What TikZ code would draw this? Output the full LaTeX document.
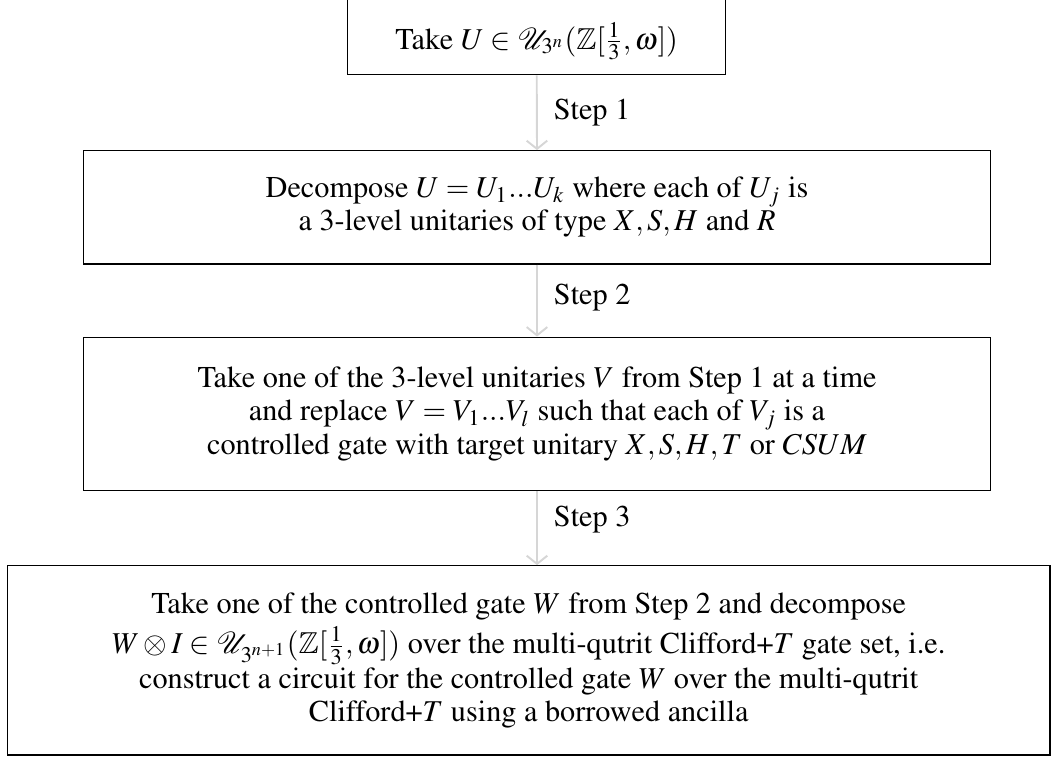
\documentclass[tikz,border=0pt]{standalone}
\usepackage[T1]{fontenc}
\IfFileExists{newtxmath.sty}{\usepackage{times}\usepackage{newtxmath}}{\usepackage{amssymb}\usepackage{mathptmx}}
\usetikzlibrary{arrows.meta}
\newlength\pxu
\setlength\pxu{0.3636pt}
\begin{document}
\begin{tikzpicture}[x=0.3636pt,y=-0.3636pt,
  box/.style={draw=black, line width=0.45pt, align=center, inner sep=0pt, font=\fontsize{11}{12}\selectfont},
  flow/.style={draw=black!16, line width=0.7pt, -{Straight Barb[length=3pt,width=7.5pt]}},
  steplabel/.style={anchor=west, inner sep=0pt, xshift=16\pxu, font=\fontsize{11}{12}\selectfont}]
\useasboundingbox (0,0) rectangle (1058,757);
% box 1 (top edge cropped)
\node[box, minimum width=378\pxu, minimum height=150\pxu] (b1) at (536.7,-0.3) {};
\node[inner sep=0pt, font=\fontsize{11}{12}\selectfont] (t1) at (536.7,41) {Take $U\in\mathcal{U}_{3^n}(\mathbb{Z}[\frac{1}{3},\omega])$};
% box 2
\node[box, minimum width=907.4\pxu, minimum height=113.3\pxu] (b2) at (537,207.4)
  {Decompose $U = U_1...U_k$ where each of $U_j$ is\\ a 3-level unitaries of type $X, S, H$ and $R$};
% box 3
\node[box, minimum width=907.4\pxu, minimum height=153.7\pxu] (b3) at (537,414)
  {Take one of the 3-level unitaries $V$ from Step 1 at a time\\ and replace $V = V_1...V_l$ such that each of $V_j$ is a\\ controlled gate with target unitary $X, S, H, T$ or $CSUM$};
% box 4
\node[box, minimum width=1042.7\pxu, minimum height=189.3\pxu] (b4) at (528.7,660.4)
  {Take one of the controlled gate $W$ from Step 2 and decompose\\[1.5pt] $W\otimes I\in\mathcal{U}_{3^{n+1}}(\mathbb{Z}[\frac{1}{3},\omega])$ over the multi-qutrit Clifford+$T$ gate set, i.e.\\[0.5pt] construct a circuit for the controlled gate $W$ over the multi-qutrit\\ Clifford+$T$ using a borrowed ancilla};
% connectors
\draw[flow] (b1.south) -- node[steplabel] (s1) {Step 1} (b2.north);
\draw[flow] (b2.south) -- node[steplabel, pos=0.45] (s2) {Step 2} (b3.north);
\draw[flow] (b3.south) -- node[steplabel, pos=0.38] (s3) {Step 3} (b3.south |- b4.north);
\end{tikzpicture}
\end{document}
